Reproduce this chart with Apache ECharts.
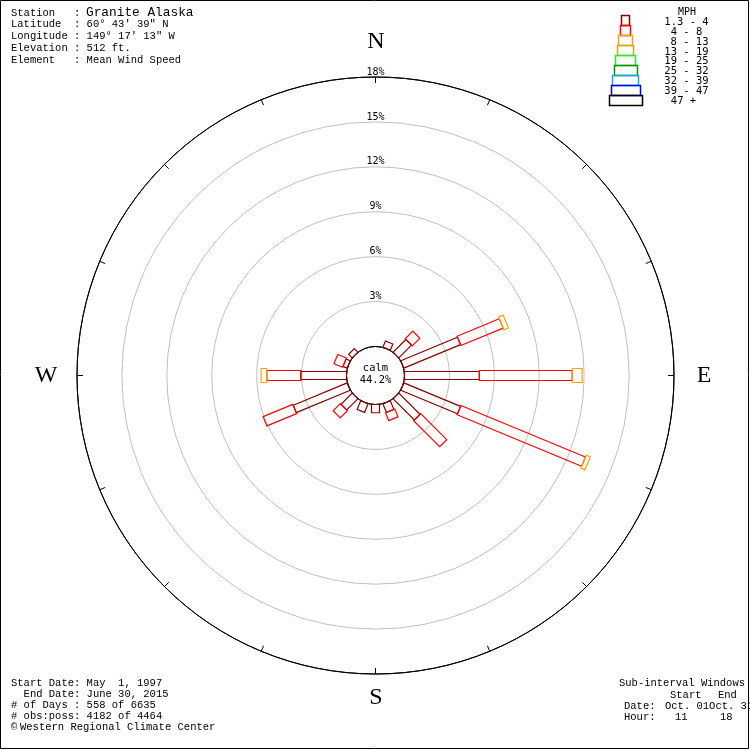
<!DOCTYPE html>
<html><head><meta charset="utf-8">
<script src="https://cdn.jsdelivr.net/npm/echarts@6/dist/echarts.min.js"></script>
<style>html,body{margin:0;padding:0;background:#fff}#c{width:750px;height:750px}</style>
</head><body><div id="c"></div>
<script>
// ---- data ----
const directions = ['N','NNE','NE','ENE','E','ESE','SE','SSE','S','SSW','SW','WSW','W','WNW','NW','NNW'];
const directionDegrees = [0,22.5,45,67.5,90,112.5,135,157.5,180,202.5,225,247.5,270,292.5,315,337.5];
const speedClassLabels = ['1.3 - 4','4 - 8','8 - 13','13 - 19','19 - 25','25 - 32','32 - 39','39 - 47','47 +'];
// percent frequency per direction (N clockwise) for each speed class
const speed_1_4   = [0,0.45,1.2,4.1,5.0,4.1,2.0,0.62,0.55,0.62,1.05,3.9,3.05,0.3,0.33,0];
const speed_4_8   = [0,0,0.72,3.05,6.2,9.0,2.46,0.57,0,0,0.68,2.15,2.27,0.63,0,0];
const speed_8_13  = [0,0,0,0.33,0.67,0.3,0,0,0,0,0,0,0.38,0,0,0];
const speed_13_19 = [0,0,0,0,0,0,0,0,0,0,0,0,0,0,0,0];
const speed_19_25 = [0,0,0,0,0,0,0,0,0,0,0,0,0,0,0,0];
const speed_25_32 = [0,0,0,0,0,0,0,0,0,0,0,0,0,0,0,0];
const speed_32_39 = [0,0,0,0,0,0,0,0,0,0,0,0,0,0,0,0];
const speed_39_47 = [0,0,0,0,0,0,0,0,0,0,0,0,0,0,0,0];
const speed_47_up = [0,0,0,0,0,0,0,0,0,0,0,0,0,0,0,0];
const calmPercent = 44.2;
const radiusTicks = [0,3,6,9,12,15,18];

const classSeries = [speed_1_4,speed_4_8,speed_8_13,speed_13_19,speed_19_25,speed_25_32,speed_32_39,speed_39_47,speed_47_up];
const classColors = ['#800000','#ff0000','#ffa500','#daa520','#22ee22','#009000','#10a8f0','#0000e8','#000000'];
const classWidths = [8,10,14,16,20,23,26,29,33];
const legendLabelX = [686.5,686.5,689.5,686.5,686.5,686.5,686.5,686.5,683.5];

// stacked segments
const segData = [];
directions.forEach((d, i) => {
  let cum = 0;
  classSeries.forEach((arr, k) => {
    const v = arr[i];
    if (v > 0) { segData.push([cum + v, directionDegrees[i], cum, k]); cum += v; }
  });
});

function renderItem(params, api) {
  const end = api.value(0), ang = api.value(1), start = api.value(2), k = api.value(3);
  const p0 = api.coord([start, ang]);
  const p1 = api.coord([end, ang]);
  const dx = p1[0]-p0[0], dy = p1[1]-p0[1];
  const len = Math.hypot(dx, dy) || 1;
  const hw = classWidths[k] / 2;
  const nx = -dy/len*hw, ny = dx/len*hw;
  return {
    type: 'polygon',
    shape: { points: [[p0[0]+nx,p0[1]+ny],[p1[0]+nx,p1[1]+ny],[p1[0]-nx,p1[1]-ny],[p0[0]-nx,p0[1]-ny]] },
    style: { fill: 'none', stroke: classColors[k], lineWidth: 1.2 }
  };
}

const mono = '"Liberation Mono", monospace';
const mono2 = '"DejaVu Sans Mono", monospace';
function txt(x, y, s, size, fam, align) {
  return { type: 'text', x: x, y: y, silent: true,
    style: { text: s, fontSize: size, fontFamily: fam, fill: '#000', align: align || 'left', verticalAlign: 'middle' } };
}

const graphics = [];
graphics.push({ type: 'rect', shape: { x: 0.5, y: 0.5, width: 748, height: 748 }, style: { fill: 'none', stroke: '#000', lineWidth: 1 }, silent: true });
// header
graphics.push(txt(11, 13, 'Station   :', 10.5, mono));
graphics.push(txt(86, 12.5, 'Granite Alaska', 12.8, mono));
graphics.push(txt(11, 24.5, 'Latitude  : 60° 43\' 39" N', 10.5, mono));
graphics.push(txt(11, 36.5, 'Longitude : 149° 17\' 13" W', 10.5, mono));
graphics.push(txt(11, 48.5, 'Elevation : 512 ft.', 10.5, mono));
graphics.push(txt(11, 60.5, 'Element   : Mean Wind Speed', 10.5, mono));
// footer left
graphics.push(txt(11, 683.5, 'Start Date: May  1, 1997', 10.5, mono));
graphics.push(txt(11, 694.5, '  End Date: June 30, 2015', 10.5, mono));
graphics.push(txt(11, 705.5, '# of Days : 558 of 6635', 10.5, mono));
graphics.push(txt(11, 716.5, '# obs:poss: 4182 of 4464', 10.5, mono));
graphics.push(txt(11, 727.5, '©', 10.5, mono));
graphics.push(txt(20, 727.5, 'Western Regional Climate Center', 10.5, mono));
// footer right
graphics.push(txt(619, 683.5, 'Sub-interval Windows', 10.5, mono));
graphics.push(txt(670, 695, 'Start', 10.5, mono));
graphics.push(txt(718, 695, 'End', 10.5, mono));
graphics.push(txt(624, 706, 'Date:', 10.5, mono));
graphics.push(txt(665, 706, 'Oct. 01Oct. 31', 10.5, mono));
graphics.push(txt(624, 717, 'Hour:', 10.5, mono));
graphics.push(txt(675, 717, '11', 10.5, mono));
graphics.push(txt(720, 717, '18', 10.5, mono));
// compass letters
const serif = '"Liberation Serif", serif';
graphics.push(txt(376, 42, 'N', 24, serif, 'center'));
graphics.push(txt(704, 376, 'E', 24, serif, 'center'));
graphics.push(txt(376, 698, 'S', 24, serif, 'center'));
graphics.push(txt(46, 376, 'W', 24, serif, 'center'));
// calm
graphics.push(txt(375.5, 368, 'calm', 10.5, mono2, 'center'));
graphics.push(txt(375.5, 380.5, calmPercent.toFixed(1) + '%', 10.5, mono2, 'center'));
// legend
graphics.push(txt(687, 12, 'MPH', 10, mono2, 'center'));
speedClassLabels.forEach((lab, k) => {
  const w = classWidths[k];
  graphics.push({ type: 'rect', silent: true, shape: { x: Math.round(625 - w/2) + 0.5, y: 15.5 + 10*k, width: w, height: 10 },
    style: { fill: 'none', stroke: classColors[k], lineWidth: 1.5 } });
  graphics.push(txt(legendLabelX[k], 22.5 + 9.8*k, lab, 10.5, mono2, 'center'));
});

const chart = echarts.init(document.getElementById('c'), null, { renderer: 'canvas' });
chart.setOption({
  animation: false,
  backgroundColor: '#fff',
  polar: { center: [375.5, 375.5], radius: [29, 298.5] },
  angleAxis: {
    type: 'value', min: 0, max: 360, interval: 22.5, startAngle: 90, clockwise: true,
    axisLine: { show: true, lineStyle: { color: '#000', width: 1 } },
    axisTick: { show: true, inside: true, length: 6, lineStyle: { color: '#000', width: 1 } },
    axisLabel: { show: false }, splitLine: { show: false }
  },
  radiusAxis: {
    type: 'value', min: 0, max: 18, interval: 3,
    axisLine: { show: false }, axisTick: { show: false },
    axisLabel: { show: true, formatter: v => (v === 0 ? '' : v + '%'), align: 'center', verticalAlign: 'bottom', margin: 0,
      fontFamily: mono2, fontSize: 10, color: '#000' },
    splitLine: { show: true, lineStyle: { color: ['#000','#c0c0c0','#c0c0c0','#c0c0c0','#c0c0c0','#c0c0c0','#000'], width: 1 } }
  },
  series: [{
    type: 'custom', coordinateSystem: 'polar', renderItem: renderItem,
    encode: { radius: 0, angle: 1 }, data: segData, silent: true, clip: false
  }],
  graphic: graphics
});
</script></body></html>
